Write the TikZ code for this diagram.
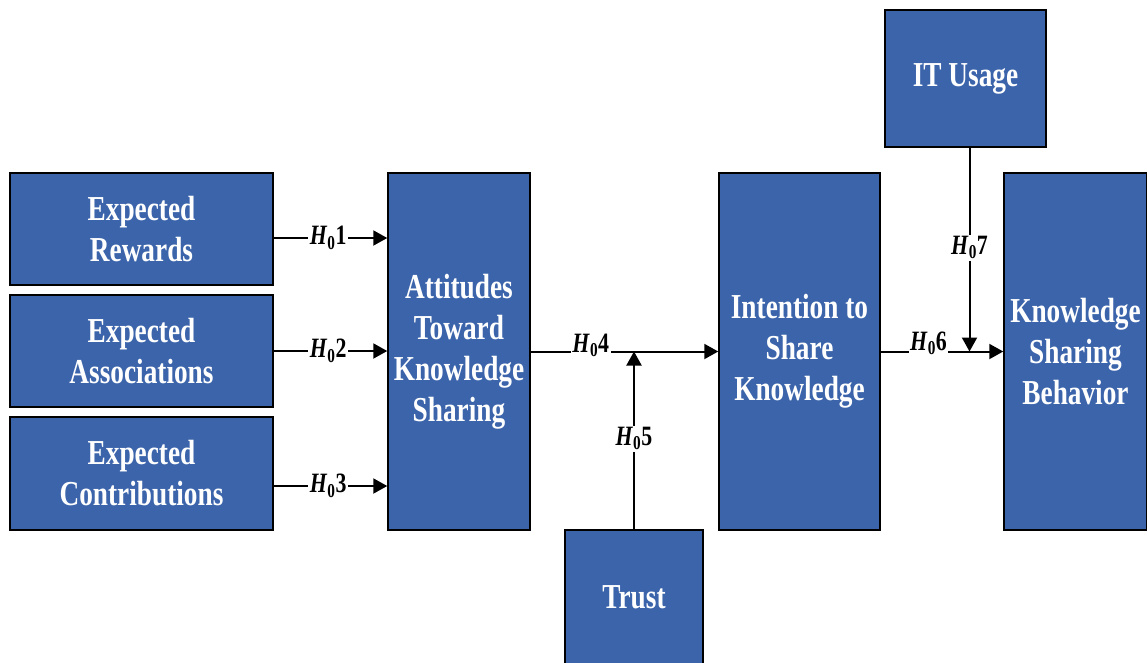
\documentclass[tikz,border=0pt]{standalone}
\usepackage{fontspec}
\setmainfont{Liberation Serif}[FakeStretch=0.78]
\usetikzlibrary{arrows.meta}
\definecolor{boxblue}{RGB}{59,100,171}
\newcommand\hyp[1]{\textit{H}\textsubscript{0}#1}
\begin{document}
\begin{tikzpicture}[x=1pt,y=-1pt,
  box/.style={draw=black, line width=1.5pt, fill=boxblue, text=white,
    font=\bfseries\fontsize{35}{41}\selectfont, align=center, inner sep=0pt},
  arr/.style={line width=2pt, -{Triangle[length=14pt,width=15pt]}},
  lbl/.style={fill=white, inner sep=1.5pt, font=\bfseries\fontsize{28}{30}\selectfont}]
\useasboundingbox (0,0) rectangle (1147,662);

\node[box, minimum width=263pt, minimum height=112pt] (ER) at (141.5,229) {Expected\\Rewards};
\node[box, minimum width=263pt, minimum height=112pt] (EA) at (141.5,351) {Expected\\Associations};
\node[box, minimum width=263pt, minimum height=113pt] (EC) at (141.5,473.5) {Expected\\Contributions};
\node[box, minimum width=142pt, minimum height=357pt] (ATT) at (459,351.5) {Attitudes\\Toward\\Knowledge\\Sharing};
\node[box, minimum width=161pt, minimum height=357pt] (INT) at (799.5,351.5) {Intention to\\Share\\Knowledge};
\node[box, minimum width=143pt, minimum height=357pt] (KSB) at (1075.5,351.5) {Knowledge\\Sharing\\Behavior};
\node[box, minimum width=161pt, minimum height=137pt] (IT) at (965.5,78.5) {IT Usage};
\node[box, minimum width=138pt, minimum height=134pt] (TR) at (634,597) {Trust};

\coordinate (a1) at ([yshift=-9pt]ER.east);
\coordinate (a3) at ([yshift=-12.5pt]EC.east);
\coordinate (j5) at (TR.north |- INT.west);
\coordinate (t7) at ([xshift=4pt]IT.south);
\coordinate (j7) at (t7 |- INT.west);

\draw[arr] (a1) -- node[lbl, pos=0.48]{\hyp{1}} (a1 -| ATT.west);
\draw[arr] (EA.east) -- node[lbl, pos=0.48]{\hyp{2}} (EA.east -| ATT.west);
\draw[arr] (a3) -- node[lbl, pos=0.48]{\hyp{3}} (a3 -| ATT.west);
\draw[arr] (ATT.east |- INT.west) -- node[lbl, pos=0.32, yshift=6pt]{\hyp{4}} (INT.west);
\draw[arr] (TR.north) -- node[lbl, pos=0.51]{\hyp{5}} (j5);
\draw[arr] (INT.east) -- node[lbl, pos=0.39, yshift=8pt]{\hyp{6}} (KSB.west);
\draw[arr] (t7) -- node[lbl, pos=0.49]{\hyp{7}} (j7);
\end{tikzpicture}
\end{document}
